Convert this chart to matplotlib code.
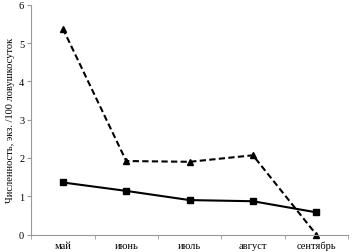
import numpy as np
import matplotlib.pyplot as plt

months = ['май', 'июнь', 'июль', 'август', 'сентябрь']
series_squares = [1.36, 1.14, 0.90, 0.87, 0.58]
series_triangles = [5.38, 1.92, 1.90, 2.07, 0.0]
y_ticks = [0, 1, 2, 3, 4, 5, 6]

plt.rcParams['font.family'] = ['Liberation Serif', 'DejaVu Serif']

fig = plt.figure(figsize=(3.54, 2.53), dpi=100)
ax = fig.add_axes([0.088, 0.069, 0.895, 0.908])

x = np.arange(len(months))
ax.plot(x, series_triangles, color='black', linestyle='--', linewidth=1.5,
        marker='^', markersize=5, dashes=(3, 1.6), clip_on=False)
ax.plot(x, series_squares, color='black', linestyle='-', linewidth=1.5,
        marker='s', markersize=5, clip_on=False)

ax.set_xlim(-0.5, len(months) - 0.5)
ax.set_ylim(0, 6)
ax.set_yticks(y_ticks)
ax.set_xticks(x)
ax.set_xticklabels(months, fontsize=7.5)
ax.tick_params(axis='x', length=0, pad=4.5)
ax.set_xticks(np.arange(-0.5, len(months)), minor=True)
ax.tick_params(axis='x', which='minor', length=3, color='#999999')
ax.tick_params(axis='y', labelsize=7.5, length=3, color='#999999', pad=2)

for side in ['top', 'right']:
    ax.spines[side].set_visible(False)
ax.spines['left'].set_color('#999999')
ax.spines['bottom'].set_color('#999999')
ax.spines['left'].set_linewidth(0.8)
ax.spines['bottom'].set_linewidth(0.8)

ax.set_ylabel('Численность, экз. /100 ловушкосуток', fontsize=7.5, labelpad=3)

fig.savefig('out.png', dpi=100)
